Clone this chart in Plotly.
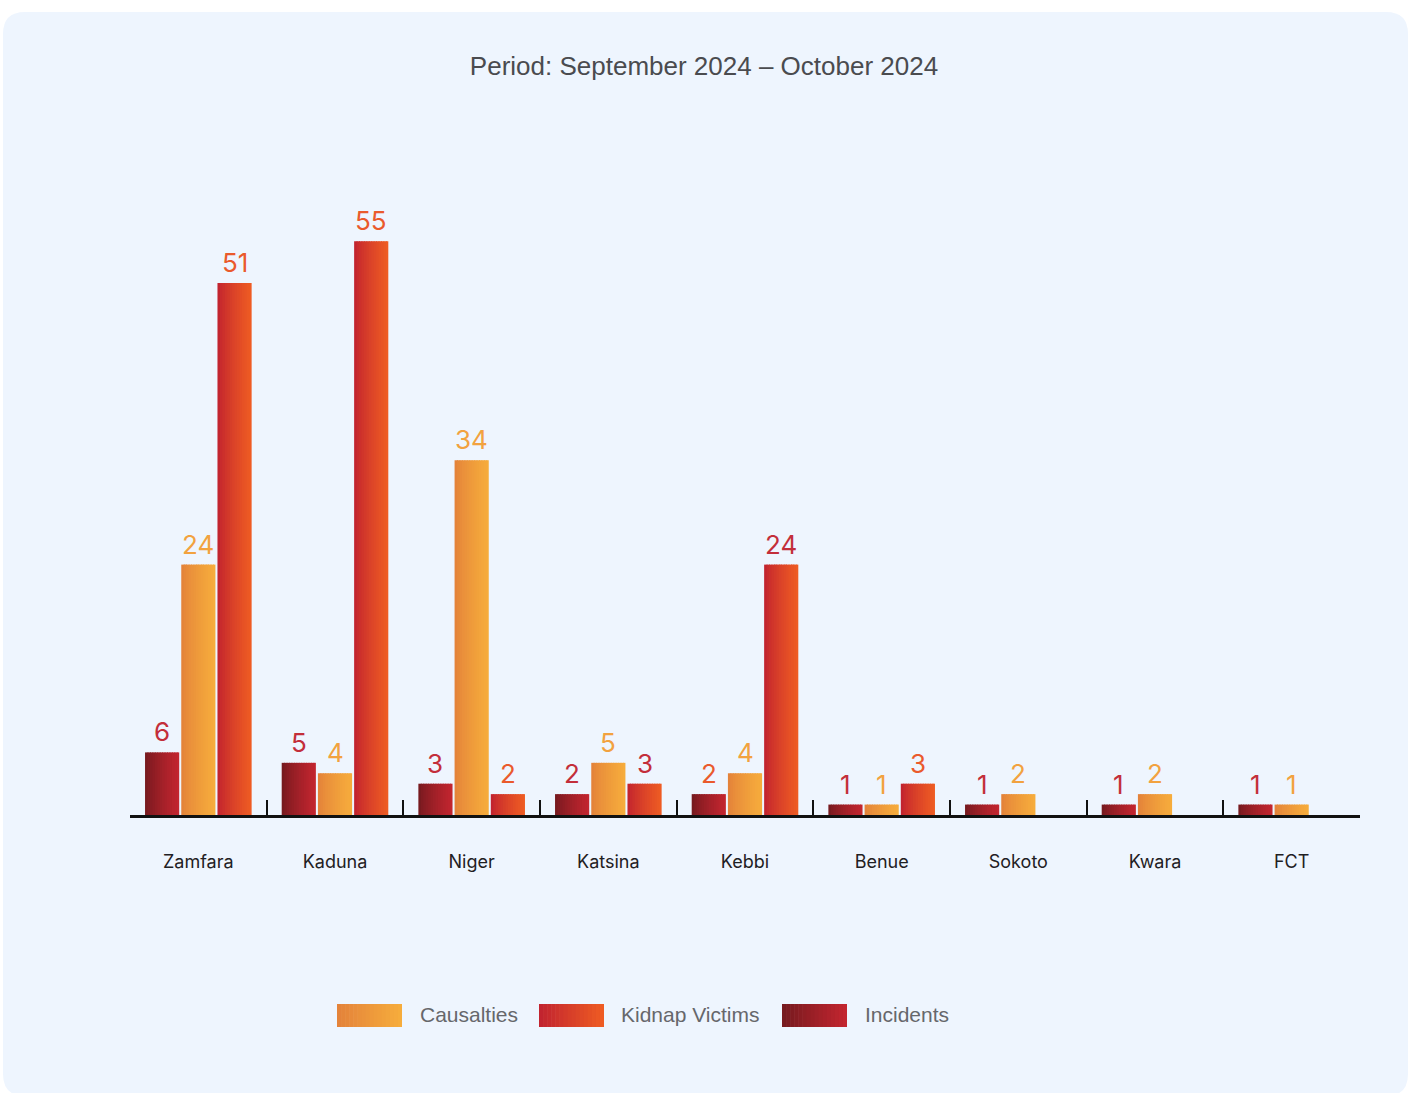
import plotly.graph_objects as go

# ---------------- data ----------------
categories = ["Zamfara", "Kaduna", "Niger", "Katsina", "Kebbi", "Benue", "Sokoto", "Kwara", "FCT"]
incidents = [6, 5, 3, 2, 2, 1, 1, 1, 1]
causalties = [24, 4, 34, 5, 4, 1, 2, 2, 1]
kidnap_victims = [51, 55, 2, 3, 24, 3, None, None, None]
title_text = "Period: September 2024 \u2013 October 2024"

# ---------------- styles ----------------
W, H = 1416, 1093
L, R, T, B = 130, 56, 189, 278
PW, PH = W - L - R, H - T - B
YMAX = 60

CRIM = "#C32E3A"
ORNG = "#F2A23F"
REDO = "#EA5A2C"

series = [
    dict(name="Incidents", values=incidents, c0="#771A1F", c1="#C2252F", off=-0.39,
         lab=[CRIM, CRIM, CRIM, CRIM, REDO, CRIM, CRIM, CRIM, CRIM]),
    dict(name="Causalties", values=causalties, c0="#E4833A", c1="#F6AC3C", off=-0.125,
         lab=[ORNG] * 9),
    dict(name="Kidnap Victims", values=kidnap_victims, c0="#C2242F", c1="#EE5B23", off=0.14,
         lab=[REDO, REDO, REDO, CRIM, CRIM, REDO, REDO, REDO, REDO]),
]
BW = 0.25
NS = 14


def hex2rgb(h):
    h = h.lstrip("#")
    return tuple(int(h[i:i + 2], 16) for i in (0, 2, 4))


def mix(a, b, t):
    ra, rb = hex2rgb(a), hex2rgb(b)
    return "rgb(%d,%d,%d)" % tuple(round(ra[i] + (rb[i] - ra[i]) * t) for i in range(3))


fig = go.Figure()

# gradient bars built from thin slices
for s in series:
    sw = BW / NS
    for k in range(NS):
        t = (k / (NS - 1)) ** 0.8
        fig.add_trace(go.Bar(
            x=categories, y=s["values"],
            offset=s["off"] + k * sw,
            width=sw * (1.4 if k < NS - 1 else 1.0),
            marker=dict(color=mix(s["c0"], s["c1"], t), line=dict(width=0)),
            showlegend=False, hoverinfo="skip",
        ))

# value labels
annotations = []
for s in series:
    for i, v in enumerate(s["values"]):
        if v is None:
            continue
        annotations.append(dict(
            x=i + s["off"] + BW / 2, y=v, xref="x", yref="y",
            text=str(v), showarrow=False, yanchor="bottom", yshift=3,
            font=dict(family="Inter", size=26, color=s["lab"][i]),
        ))

# background rounded panel
def px2x(px):
    return (px - L) / PW


def py2y(py):
    return (H - B - py) / PH


x0, x1, y0, y1, rr = 3, 1408, 12, 1096, 22
path = (
    f"M {px2x(x0 + rr)},{py2y(y0)} L {px2x(x1 - rr)},{py2y(y0)} "
    f"Q {px2x(x1)},{py2y(y0)} {px2x(x1)},{py2y(y0 + rr)} "
    f"L {px2x(x1)},{py2y(y1 - rr)} Q {px2x(x1)},{py2y(y1)} {px2x(x1 - rr)},{py2y(y1)} "
    f"L {px2x(x0 + rr)},{py2y(y1)} Q {px2x(x0)},{py2y(y1)} {px2x(x0)},{py2y(y1 - rr)} "
    f"L {px2x(x0)},{py2y(y0 + rr)} Q {px2x(x0)},{py2y(y0)} {px2x(x0 + rr)},{py2y(y0)} Z"
)
shapes = [dict(type="path", path=path, xref="paper", yref="paper",
               fillcolor="#EEF5FE", line=dict(width=0), layer="below")]

# custom legend (wide gradient swatches)
legend_items = [
    ("Causalties", series[1], 337, 418),
    ("Kidnap Victims", series[2], 539, 619),
    ("Incidents", series[0], 782, 863),
]
LS = 16
for name, s, rx, tx in legend_items:
    rw = 65
    sw = rw / LS
    for k in range(LS):
        t = k / (LS - 1)
        shapes.append(dict(
            type="rect", xref="paper", yref="paper",
            x0=px2x(rx + k * sw), x1=px2x(rx + (k + 1) * sw + (0.6 if k < LS - 1 else 0)),
            y0=py2y(1027), y1=py2y(1004),
            fillcolor=mix(s["c0"], s["c1"], t), line=dict(width=0), layer="above",
        ))
    annotations.append(dict(
        x=px2x(tx), y=py2y(1014), xref="paper", yref="paper", text=name,
        showarrow=False, xanchor="left", yanchor="middle",
        font=dict(family="Liberation Sans", size=21, color="#66676B"),
    ))

fig.update_layout(
    width=W, height=H,
    margin=dict(l=L, r=R, t=T, b=B),
    paper_bgcolor="white", plot_bgcolor="rgba(0,0,0,0)",
    barmode="overlay",
    showlegend=False,
    title=dict(text=title_text, x=704 / W, xref="container", xanchor="center",
               y=1 - 66 / H, yref="container", yanchor="middle",
               font=dict(family="Liberation Sans", size=26, color="#4A4B4F")),
    xaxis=dict(
        type="category", range=[-0.5, len(categories) - 0.5],
        showline=True, linecolor="#111111", linewidth=2.5,
        ticks="inside", ticklen=15, tickwidth=2, tickcolor="#111111",
        tickson="boundaries", showgrid=False, zeroline=False,
        tickfont=dict(family="Inter", size=18, color="#1F2023"),
        ticklabelstandoff=29, layer="below traces",
    ),
    yaxis=dict(range=[0, YMAX], visible=False, showgrid=False, zeroline=False),
    shapes=shapes,
    annotations=annotations,
)

fig.write_html("out.html")
